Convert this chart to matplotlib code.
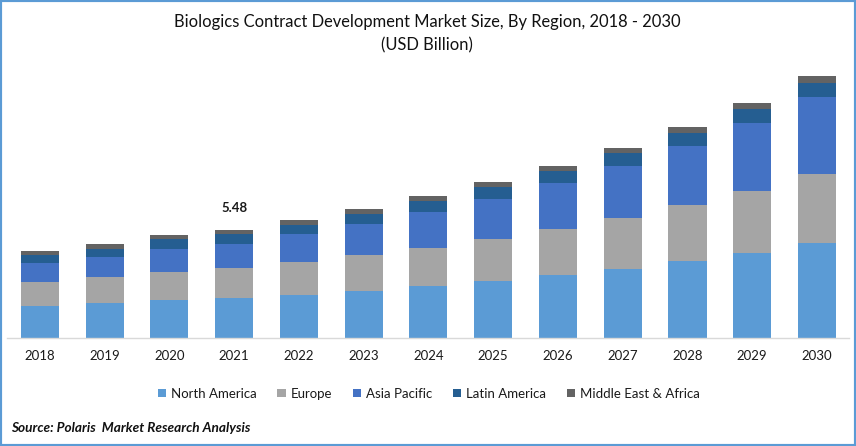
import numpy as np
import matplotlib
matplotlib.use("Agg")
import matplotlib.pyplot as plt
from matplotlib.patches import Rectangle

plt.rcParams['font.family'] = ['Lato', 'DejaVu Sans']

years = ['2018','2019','2020','2021','2022','2023','2024','2025','2026','2027','2028','2029','2030']
north_america = [1.62,1.78,1.93,2.03,2.18,2.38,2.64,2.89,3.19,3.50,3.90,4.31,4.82]
europe = [1.22,1.32,1.42,1.52,1.67,1.83,1.93,2.13,2.33,2.59,2.84,3.14,3.50]
asia_pacific = [0.96,1.01,1.17,1.22,1.42,1.57,1.83,2.03,2.33,2.64,2.99,3.45,3.90]
latin_america = [0.41,0.41,0.51,0.51,0.46,0.51,0.56,0.61,0.61,0.66,0.66,0.71,0.71]
mea = [0.20,0.25,0.20,0.20,0.25,0.25,0.25,0.25,0.25,0.25,0.30,0.30,0.35]

names = ['North America','Europe','Asia Pacific','Latin America','Middle East & Africa']
series = [north_america,europe,asia_pacific,latin_america,mea]
colors = ['#5B9BD5','#A5A5A5','#4472C4','#255E91','#636363']

W, H = 856, 446
fig = plt.figure(figsize=(W/100,H/100),dpi=100)
ax = fig.add_axes([7.4/W,(H-338)/H,842/W,278/H])

x = np.arange(len(years))
bottom = np.zeros(len(years))
handles = []
for s,c,n in zip(series,colors,names):
    b = ax.bar(x,s,0.588,bottom=bottom,color=c,label=n)
    handles.append(b)
    bottom = bottom+np.array(s)

ax.set_xlim(-0.5,12.5)
ax.set_ylim(0,14.1)
ax.set_yticks([])
ax.set_xticks(x)
ax.set_xticklabels(years,fontsize=9.5,color='#1a1a1a')
ax.tick_params(axis='x',length=0,pad=9)
for k in ['top','left','right']:
    ax.spines[k].set_visible(False)
ax.spines['bottom'].set_color('#D9D9D9')
ax.spines['bottom'].set_linewidth(1)

ax.text(3,6.3,'5.48',ha='center',va='bottom',fontsize=9.5,fontweight='bold',color='#1a1a1a')

fig.text(427/W,1-22/H,'Biologics Contract Development Market Size, By Region, 2018 - 2030',
         ha='center',va='center',fontsize=11.9,color='#111111')
fig.text(427/W,1-45/H,'(USD Billion)',ha='center',va='center',fontsize=11.9,color='#111111')

fig.legend(handles=handles,labels=names,loc='center',bbox_to_anchor=(429/W,1-393.5/H),ncol=5,
           frameon=False,fontsize=9.5,handlelength=0.62,handleheight=0.62,handletextpad=0.4,
           columnspacing=1.55,labelcolor='#1a1a1a')

fig.text(11/W,1-428/H,'Source: Polaris  Market Research Analysis',ha='left',va='center',
         fontsize=9.8,fontweight='bold',fontstyle='italic',color='#111111')

# frame around the picture
fig.add_artist(Rectangle((0,0),1,1,transform=fig.transFigure,fill=False,ec='#5B9BD5',lw=3))

fig.savefig('out.png',dpi=100)
